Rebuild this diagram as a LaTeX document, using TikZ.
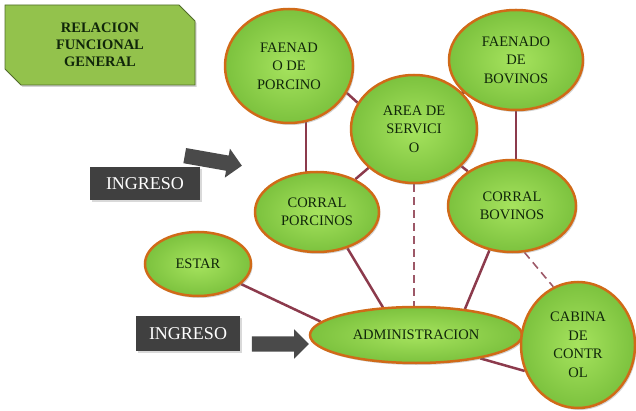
\documentclass[tikz,border=0pt]{standalone}
\usepackage{fontspec}
\setmainfont{Liberation Serif}
\usetikzlibrary{shapes,shapes.misc,shapes.arrows,shadows,backgrounds,positioning}

\definecolor{leaflight}{HTML}{A6E35E}
\definecolor{leafdark}{HTML}{7CC23E}
\definecolor{rimorange}{HTML}{D06A18}
\definecolor{inkgreen}{HTML}{10260A}
\definecolor{linkred}{HTML}{8C3A4C}
\definecolor{boxgray}{HTML}{404040}
\definecolor{titlegreen}{HTML}{93C24C}

\begin{document}
\begin{tikzpicture}[x=1pt,y=-1pt,
    zone/.style={
        ellipse,
        draw=rimorange,
        line width=2.5pt,
        inner color=leaflight,
        outer color=leafdark,
        inner sep=0pt,
        align=center,
        text=inkgreen,
        font=\fontsize{14.5}{18.5}\selectfont,
        drop shadow={shadow xshift=1.5pt, shadow yshift=-2pt, opacity=.35}
    },
    link/.style={draw=linkred, line width=2.5pt},
    dashlink/.style={draw=linkred!85, line width=1.6pt, dash pattern=on 8pt off 5pt},
    entry/.style={
        fill=boxgray,
        text=white,
        inner sep=0pt,
        font=\fontsize{18}{20}\selectfont,
        drop shadow={shadow xshift=1.5pt, shadow yshift=-2pt, opacity=.3}
    },
    blockarrow/.style={
        single arrow,
        fill=boxgray!95,
        inner xsep=0pt,
        inner ysep=7.5pt,
        single arrow head extend=7pt
    }]

    \useasboundingbox (0,0) rectangle (636,411);

    \node(Title) [chamfered rectangle, chamfered rectangle corners={north east,south west},
        chamfered rectangle xsep=8pt, chamfered rectangle ysep=8pt,
        minimum width=190pt, minimum height=80pt, inner sep=0pt,
        fill=titlegreen, draw=titlegreen!55!black, line width=.8pt,
        drop shadow={shadow xshift=1.5pt, shadow yshift=-2pt, opacity=.35},
        align=center, text=inkgreen, font=\bfseries\fontsize{14.5}{17}\selectfont] at (100,45)
        {RELACION\\FUNCIONAL\\GENERAL};

    \node(FaenadoPorcino) [zone, minimum width=128pt, minimum height=114pt] at (289,66) {FAENAD\\O DE\\PORCINO};
    \node(AreaServicio) [zone, minimum width=126pt, minimum height=108pt] at (414,129) {AREA DE\\SERVICI\\O};
    \node(FaenadoBovino) [zone, minimum width=134pt, minimum height=100pt] at (516,60) {FAENADO\\DE\\BOVINOS};
    \node(CorralPorcino) [zone, minimum width=124pt, minimum height=80pt] at (317,212) {CORRAL\\PORCINOS};
    \node(CorralBovino) [zone, minimum width=128pt, minimum height=92pt] at (512,206) {CORRAL\\BOVINOS};
    \node(Estar) [zone, minimum width=106pt, minimum height=64pt] at (198,264) {ESTAR};
    \node(Admin) [zone, minimum width=212pt, minimum height=56pt] at (416,335) {ADMINISTRACION};
    \node(Cabina) [zone, minimum width=114pt, minimum height=126pt] at (578,345) {CABINA\\DE\\CONTR\\OL};

    \node(Ingreso1) [entry, minimum width=110pt, minimum height=33pt] at (145,183.5) {INGRESO};
    \node(Ingreso2) [entry, minimum width=104pt, minimum height=35pt] at (188,333.5) {INGRESO};
    \node(Arrow1) [blockarrow, minimum height=58pt, rotate=-10] at (209.5,160) {};
    \node(Arrow2) [blockarrow, minimum height=57pt] at (276.5,344) {};

    \begin{pgfonlayer}{background}
        \draw[link] (FaenadoPorcino.-25) -- (AreaServicio.155);
        \draw[link] (FaenadoPorcino.-73) -- (FaenadoPorcino.-73 |- CorralPorcino.center);
        \draw[link] (AreaServicio.35) -- (FaenadoBovino.210);
        \draw[link] (FaenadoBovino.south) -- (FaenadoBovino.south |- CorralBovino.center);
        \draw[link] (AreaServicio) -- (CorralPorcino);
        \draw[link] (AreaServicio) -- (CorralBovino);
        \draw[dashlink] (AreaServicio.south) -- (AreaServicio.south |- Admin.center);
        \draw[link] (CorralPorcino.-50) -- (Admin.140);
        \draw[link] (CorralBovino.-117) -- (Admin.28);
        \draw[dashlink] (CorralBovino.-75) -- (Cabina.113);
        \draw[link] (Estar.-25) -- (Admin.172);
        \draw[link] (Admin.-20) -- (Cabina.206);
    \end{pgfonlayer}
\end{tikzpicture}
\end{document}
